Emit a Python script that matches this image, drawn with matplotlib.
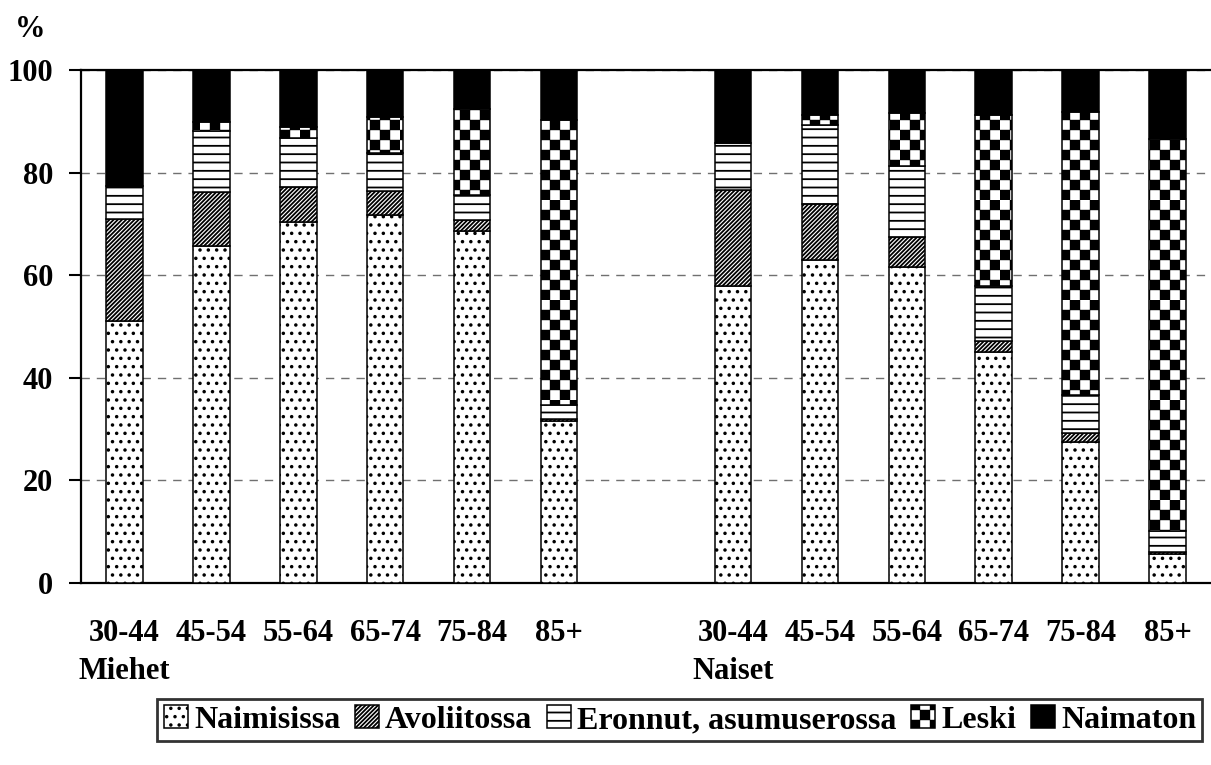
import matplotlib
matplotlib.use("Agg")
import matplotlib.pyplot as plt
import matplotlib.hatch as mhatch
from matplotlib.path import Path
import numpy as np

# data (%)
ages = ['30-44', '45-54', '55-64', '65-74', '75-84', '85+']
groups = ['Miehet', 'Naiset']

naimisissa_m = [51.0, 65.7, 70.4, 71.7, 68.6, 31.6]
avoliitossa_m = [19.9, 10.5, 6.8, 4.7, 2.1, 0.4]
eronnut_m = [6.5, 12.0, 9.5, 7.4, 4.9, 2.7]
leski_m = [0.0, 1.7, 2.2, 7.1, 16.7, 55.5]
naimaton_m = [22.6, 10.1, 11.1, 9.1, 7.7, 9.8]

naimisissa_n = [57.9, 63.0, 61.6, 45.1, 27.4, 5.7]
avoliitossa_n = [18.7, 10.9, 5.9, 2.0, 1.8, 0.3]
eronnut_n = [9.1, 15.3, 13.8, 10.8, 7.5, 4.1]
leski_n = [0.0, 2.0, 10.3, 33.3, 55.1, 76.4]
naimaton_n = [14.3, 8.8, 8.4, 8.8, 8.2, 13.5]

labels = ['Naimisissa', 'Avoliitossa', 'Eronnut, asumuserossa', 'Leski', 'Naimaton']


# checkerboard hatch (used with '*', replaces the star pattern)
class Checkers(mhatch.HatchPatternBase):
    def __init__(self, hatch, density):
        self.n = 10 if '*' in hatch else 0
        self.num_vertices = (self.n * self.n // 2) * 5

    def set_vertices_and_codes(self, vertices, codes):
        s = 1.0 / self.n
        d = 0.007
        k = 0
        for i in range(self.n):
            for j in range(self.n):
                if (i + j) % 2:
                    continue
                x0, y0 = i * s + d, j * s + d
                x1, y1 = (i + 1) * s - d, (j + 1) * s - d
                vertices[k:k + 5] = [[x0, y0], [x1, y0], [x1, y1], [x0, y1], [x0, y0]]
                codes[k:k + 5] = [Path.MOVETO, Path.LINETO, Path.LINETO,
                                  Path.LINETO, Path.CLOSEPOLY]
                k += 5


mhatch._hatch_types = [t for t in mhatch._hatch_types if t is not mhatch.Stars] + [Checkers]

plt.rcParams['font.family'] = ['Liberation Serif', 'DejaVu Serif']
plt.rcParams['font.weight'] = 'bold'
plt.rcParams['hatch.linewidth'] = 1.3

series = [
    (naimisissa_m + naimisissa_n, 'white', '..'),
    (avoliitossa_m + avoliitossa_n, 'white', '////////'),
    (eronnut_m + eronnut_n, 'white', '--'),
    (leski_m + leski_n, 'white', '*'),
    (naimaton_m + naimaton_n, 'black', None),
]

x = np.concatenate([np.arange(len(ages)), np.arange(len(ages)) + len(ages) + 1])

fig = plt.figure(figsize=(12.11, 7.65), dpi=100)
ax = fig.add_axes([0.0669, 0.2379, 0.9331, 0.6706])

bottom = np.zeros(len(x))
handles = []
for (vals, fc, hatch), lab in zip(series, labels):
    vals = np.array(vals)
    b = ax.bar(x, vals, width=0.42, bottom=bottom, color=fc, edgecolor='black',
               linewidth=1.1, hatch=hatch, label=lab, zorder=3)
    handles.append(b)
    bottom += vals

ax.set_ylim(0, 100)
ax.set_xlim(-0.5, 12.5)
ax.set_yticks([0, 20, 40, 60, 80, 100])
ax.set_yticklabels(['0', '20', '40', '60', '80', '100'], fontsize=22, fontweight='bold')

tick_labels = []
for g in groups:
    for i, a in enumerate(ages):
        tick_labels.append(a + '\n' + g if i == 0 else a)
ax.set_xticks(x)
ax.set_xticklabels(tick_labels, fontsize=22, fontweight='bold', linespacing=1.4)

ax.tick_params(axis='x', length=0, pad=26)
ax.tick_params(axis='y', direction='out', length=9, width=1.5, pad=11)

ax.yaxis.grid(True, linestyle=(0, (6, 5)), color='#707070', linewidth=1.0, zorder=0)
ax.set_axisbelow(True)

ax.spines['right'].set_visible(False)
for sp in ['top', 'bottom', 'left']:
    ax.spines[sp].set_linewidth(1.6)
    ax.spines[sp].set_color('black')

fig.text(0.012, 0.962, '%', fontsize=22, fontweight='bold', va='center', ha='left')

leg = fig.legend(handles, labels, loc='center', bbox_to_anchor=(0.5615, 0.0588),
                 ncol=5, fontsize=23, frameon=True, fancybox=False,
                 edgecolor='black', handlelength=0.75, handleheight=0.75,
                 handletextpad=0.2, columnspacing=0.45, borderpad=0.2,
                 borderaxespad=0)
leg.get_frame().set_linewidth(2.0)
for t in leg.get_texts():
    t.set_fontweight('bold')

plt.savefig('out.png', dpi=100)
